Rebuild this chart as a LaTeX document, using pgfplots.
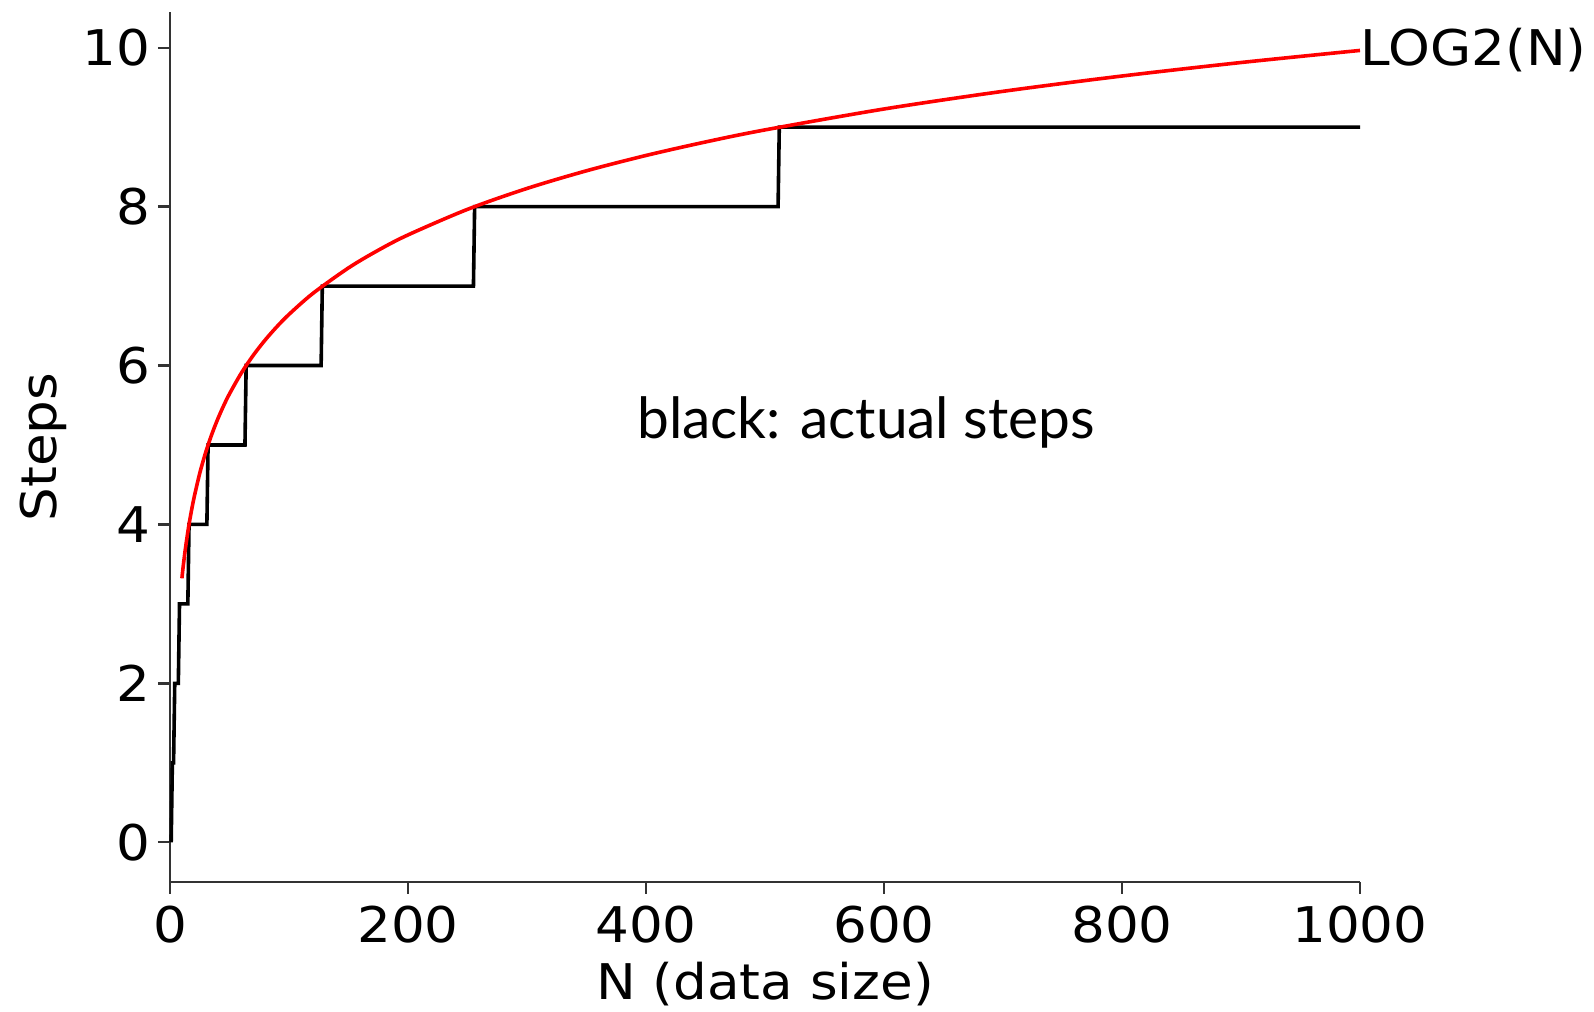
\documentclass[border=0pt]{standalone}
\usepackage{pgfplots}
\pgfplotsset{compat=1.18}
\usepackage{fontspec}
\setmainfont{DejaVu Sans}
\newfontfamily\notefont{Lato}
\newcommand{\lab}[1]{\scalebox{1.08}[1]{#1}}
\begin{document}
\begin{tikzpicture}
\useasboundingbox (-42.5pt,-32.5pt) rectangle (356pt,220.5pt);
\begin{axis}[
  at={(0,0)}, anchor=south west,
  scale only axis, width=297.5pt, height=217.5pt,
  xmin=0, xmax=1000, ymin=-0.5, ymax=10.45,
  axis x line*=bottom, axis y line*=left,
  axis line style={line width=0.6pt, black!80},
  xtick={0,200,400,600,800,1000},
  ytick={0,2,4,6,8,10},
  tick align=outside, major tick length=3pt,
  tick style={line width=0.6pt, black!80},
  /pgf/number format/assume math mode=true,
  /pgf/number format/1000 sep={},
  ticklabel style={font=\fontsize{12.3}{14}\selectfont},
  xticklabel={\lab{\pgfmathprintnumber{\tick}}},
  yticklabel={\lab{\pgfmathprintnumber{\tick}}},
  xticklabel style={yshift=0.5pt},
  yticklabel style={xshift=1.5pt},
  clip=false,
]
\addplot[black, line width=0.9pt] coordinates {
(1,0)(2,1)(3,1)(4,2)(7,2)(8,3)(15,3)(16,4)(31,4)(32,5)(63,5)(64,6)(127,6)(128,7)(255,7)(256,8)(511,8)(512,9)(1000,9)
};
\addplot[red, line width=0.9pt, smooth] coordinates {
(10,3.3219)(11,3.4594)(12,3.5850)(13,3.7004)(15,3.9069)(17,4.0875)(20,4.3219)(25,4.6439)(30,4.9069)(35,5.1293)(40,5.3219)(45,5.4919)(50,5.6439)(60,5.9069)(70,6.1293)(80,6.3219)(90,6.4919)(100,6.6439)(120,6.9069)(150,7.2288)(175,7.4512)(200,7.6439)(250,7.9658)(300,8.2288)(350,8.4512)(400,8.6439)(450,8.8138)(500,8.9658)(600,9.2288)(700,9.4512)(800,9.6439)(900,9.8138)(1000,9.9658)
};
\node[anchor=west, inner sep=0pt, font=\fontsize{12.3}{14}\selectfont] at (axis cs:1000,9.97) {\lab{LOG2(N)}};
\node[anchor=base, inner sep=0pt, font=\notefont\fontsize{14.2}{17}\selectfont] at (axis cs:585,5.08) {black: actual steps};
\node[anchor=center, inner sep=0pt, font=\fontsize{12.3}{14}\selectfont] at ([yshift=-25.5pt]rel axis cs:0.5,0) {\lab{N (data size)}};
\node[anchor=center, inner sep=0pt, rotate=90, font=\fontsize{12.3}{14}\selectfont] at ([xshift=-31.75pt]rel axis cs:0,0.5) {\lab{Steps}};
\end{axis}
\end{tikzpicture}
\end{document}
